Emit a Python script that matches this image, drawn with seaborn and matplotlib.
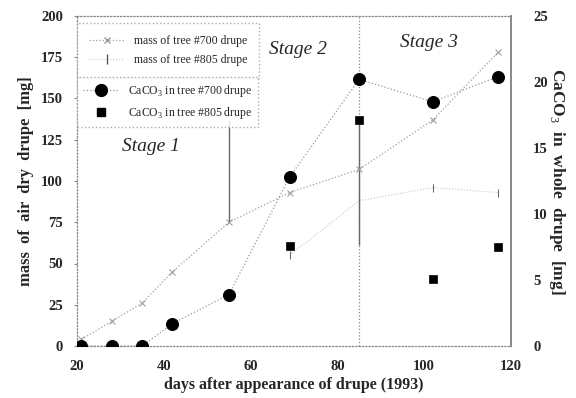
import matplotlib
matplotlib.use("Agg")
import matplotlib.pyplot as plt
import seaborn as sns
import pandas as pd
from matplotlib.lines import Line2D

# ---- data ----
days = [21, 28, 35, 42, 55, 69, 85, 102, 117]
mass700 = [4, 15, 26, 45, 75, 93, 107, 137, 178]
caco3_700 = [0, 0, 0, 1.7, 3.9, 12.8, 20.2, 18.5, 20.4]
days805 = [69, 85, 102, 117]
mass805 = [55, 88, 96, 93]
caco3_805 = [7.6, 17.1, 5.1, 7.5]
err_days = [55, 85]
err_lo = [75, 61]
err_hi = [137, 137]
stage_labels = ["Stage 1", "Stage 2", "Stage 3"]
stage_x = [37, 71, 101]
stage_y = [121, 180, 184]
xticks = [20, 40, 60, 80, 100, 120]
yticks_left = [0, 25, 50, 75, 100, 125, 150, 175, 200]
yticks_right = [0, 5, 10, 15, 20, 25]

sns.set_style("white")
plt.rcParams['font.family'] = ['Liberation Serif', 'DejaVu Serif']
plt.rcParams['mathtext.fontset'] = 'custom'
plt.rcParams['mathtext.rm'] = 'Liberation Serif'
plt.rcParams['mathtext.bf'] = 'Liberation Serif:bold'

df700 = pd.DataFrame({"day": days, "mass": mass700, "caco3": caco3_700})
df805 = pd.DataFrame({"day": days805, "mass": mass805, "caco3": caco3_805})

fig = plt.figure(figsize=(5.76, 3.98), dpi=100)
ax = fig.add_axes([77/576, 52/398, (511-77)/576, (346-16)/398])
ax2 = ax.twinx()

# stage boundary and error bars
ax.vlines([85], 0, 200, colors="#888888", linestyles=":", linewidth=0.9)
ax.vlines(err_days, err_lo, err_hi, colors="#666666", linewidth=1.0)

# mass series (left axis)
sns.lineplot(data=df700, x="day", y="mass", ax=ax, color="#a0a0a0",
             linestyle=":", linewidth=0.9, marker="x", markersize=4,
             markeredgecolor="#999999", legend=False)
sns.lineplot(data=df805, x="day", y="mass", ax=ax, color="#c8c8c8",
             linestyle=":", linewidth=0.8, marker="|", markersize=6,
             markeredgecolor="#666666", legend=False)

# CaCO3 series (right axis)
sns.lineplot(data=df700, x="day", y="caco3", ax=ax2, color="#999999",
             linestyle=":", linewidth=0.9, legend=False)
sns.scatterplot(data=df700, x="day", y="caco3", ax=ax2, color="black",
                marker="o", s=75, edgecolor="black", zorder=5, legend=False)
sns.scatterplot(data=df805, x="day", y="caco3", ax=ax2, color="black",
                marker="s", s=38, edgecolor="black", zorder=5, legend=False)

ax.set_xlim(20, 120)
ax.set_ylim(0, 200)
ax2.set_ylim(0, 25)
ax.set_xticks(xticks)
ax.set_yticks(yticks_left)
ax2.set_yticks(yticks_right)
ax.set_xticklabels([str(t) for t in xticks], fontsize=10.5, fontweight="bold")
ax.set_yticklabels([str(t) for t in yticks_left], fontsize=10.5, fontweight="bold")
ax2.set_yticklabels([str(t) for t in yticks_right], fontsize=10.5, fontweight="bold")
ax.tick_params(axis="both", length=2, color="#888888", pad=8)
ax2.tick_params(axis="y", length=0, pad=16)

ax.set_xlabel("days after appearance of drupe (1993)", fontsize=11.5,
              fontweight="bold", labelpad=3)
ax.set_ylabel("mass  of  air  dry  drupe  [mg]", fontsize=12, fontweight="bold",
              labelpad=5)
ax2.set_ylabel(r"CaCO$_3$  in  whole  drupe  [mg]", fontsize=12.5, fontweight="bold",
               rotation=270, labelpad=14)

for a in (ax, ax2):
    for side in ("left", "bottom", "top"):
        a.spines[side].set_linestyle(":")
        a.spines[side].set_color("#888888")
        a.spines[side].set_linewidth(0.9)
    a.spines["right"].set_color("#888888")
    a.spines["right"].set_linewidth(1.2)
ax2.spines["left"].set_visible(False)
ax2.spines["bottom"].set_visible(False)
ax2.spines["top"].set_visible(False)

for lab, x, y in zip(stage_labels, stage_x, stage_y):
    ax.text(x, y, lab, fontsize=14, fontstyle="italic", ha="center", va="center")

# legends
h1 = [Line2D([], [], color="#a0a0a0", linestyle=":", marker="x", markersize=4,
             markeredgecolor="#999999", linewidth=0.9),
      Line2D([], [], color="#c8c8c8", linestyle=":", marker="|", markersize=7,
             markeredgecolor="#555555", linewidth=0.8)]
leg1 = ax2.legend(h1, ["mass of tree #700 drupe", "mass of tree #805 drupe"],
                  loc="upper left", bbox_to_anchor=(0.0, 0.979), fontsize=8.5,
                  frameon=True, fancybox=False, borderaxespad=0, handlelength=3,
                  handletextpad=0.8, borderpad=1.0, labelspacing=0.6)
leg1.get_frame().set_linestyle(":")
leg1.get_frame().set_edgecolor("#999999")
ax2.add_artist(leg1)
h2 = [Line2D([], [], color="#999999", linestyle=":", marker="o", markersize=8.5,
             markerfacecolor="black", markeredgecolor="black", linewidth=0.9),
      Line2D([], [], color="none", marker="s", markersize=6,
             markerfacecolor="black", markeredgecolor="black")]
leg2 = ax2.legend(h2, [r"CaCO$_3$ in tree #700 drupe", r"CaCO$_3$ in tree #805 drupe"],
                  loc="upper left", bbox_to_anchor=(0.0, 0.815), fontsize=8.5,
                  frameon=True, fancybox=False, borderaxespad=0, handlelength=3,
                  handletextpad=0.8, borderpad=0.5, labelspacing=0.55)
leg2.get_frame().set_linestyle(":")
leg2.get_frame().set_edgecolor("#999999")

fig.savefig("out.png", dpi=100)
